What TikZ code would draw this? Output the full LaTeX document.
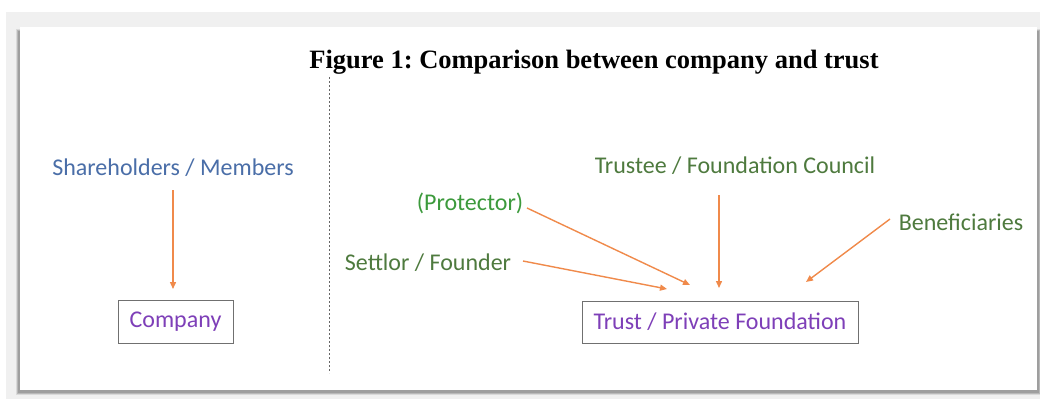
\documentclass[tikz,border=0pt]{standalone}
\usepackage{fontspec}
\setmainfont{Carlito}
\newfontfamily\titlefont{Liberation Serif}
\usetikzlibrary{arrows.meta}
\definecolor{bggray}{HTML}{F0F0F0}
\definecolor{blueTxt}{HTML}{4A6EA8}
\definecolor{greenTxt}{HTML}{4E7A3E}
\definecolor{brightGreen}{HTML}{3C9A3C}
\definecolor{purpleTxt}{HTML}{7E3FB8}
\definecolor{arrowOrange}{HTML}{F08A4B}
\definecolor{boxGray}{HTML}{707070}
\tikzset{
  lbl/.style={font=\fontsize{24}{28}\selectfont, inner sep=0pt, anchor=center},
  entity/.style={draw=boxGray, line width=1pt, font=\fontsize{24}{28}\selectfont, text=purpleTxt, inner sep=0pt},
  flow/.style={draw=arrowOrange, line width=1.4pt, -{Triangle[length=7pt,width=6pt]}},
}
\frenchspacing
\begin{document}
\begin{tikzpicture}[x=1pt,y=-1pt]
\useasboundingbox (0,0) rectangle (1040,399);
\fill[white] (0,0) rectangle (1040,399);
\fill[bggray] (6,12) rectangle (1040,399);
% shadow of panel
\fill[black!15] (16,29) rectangle (1040,395);
\fill[black!28] (17,30) rectangle (1040,394);
\fill[black!38] (18,31) rectangle (1039,393);
\fill[white] (20,27) rectangle (1037,390);
% title
\node[font=\titlefont\bfseries\fontsize{26.5}{30}\selectfont, inner sep=0pt] (title) at (594,62) {Figure 1: Comparison between company and trust};
% divider
\coordinate (dtop) at (329,77);
\coordinate (dbot) at (329,373);
\draw[black!60, dash pattern=on 2pt off 2pt, line width=0.8pt] (dtop) -- (dbot);
% left side
\node[lbl, text=blueTxt] (share) at (173,168) {Shareholders / Members};
\node[entity, minimum width=115pt, minimum height=43pt] (company) at (175.5,321.5) {Company};
\coordinate (shareS) at (173,190);
\coordinate (companyN) at (173,289);
\draw[flow] (shareS) -- (companyN);
% right side
\node[lbl, text=greenTxt] (trustee) at (735,166) {Trustee / Foundation Council};
\node[lbl, text=brightGreen] (protector) at (470,203) {(Protector)};
\node[lbl, text=greenTxt] (settlor) at (428,263) {Settlor / Founder};
\node[lbl, text=greenTxt] (benef) at (961,222) {Beneficiaries};
\node[entity, minimum width=276pt, minimum height=42pt] (trust) at (720,322) {Trust / Private Foundation};
\coordinate (protE) at (527,208);
\coordinate (protT) at (690,285);
\coordinate (setE) at (523,261);
\coordinate (setT) at (667,289);
\coordinate (trusteeS) at (719,195);
\coordinate (trusteeT) at (719,288);
\coordinate (benW) at (890,219);
\coordinate (benT) at (806,282);
\draw[flow] (protE) -- (protT);
\draw[flow] (setE) -- (setT);
\draw[flow] (trusteeS) -- (trusteeT);
\draw[flow] (benW) -- (benT);
\end{tikzpicture}
\end{document}
